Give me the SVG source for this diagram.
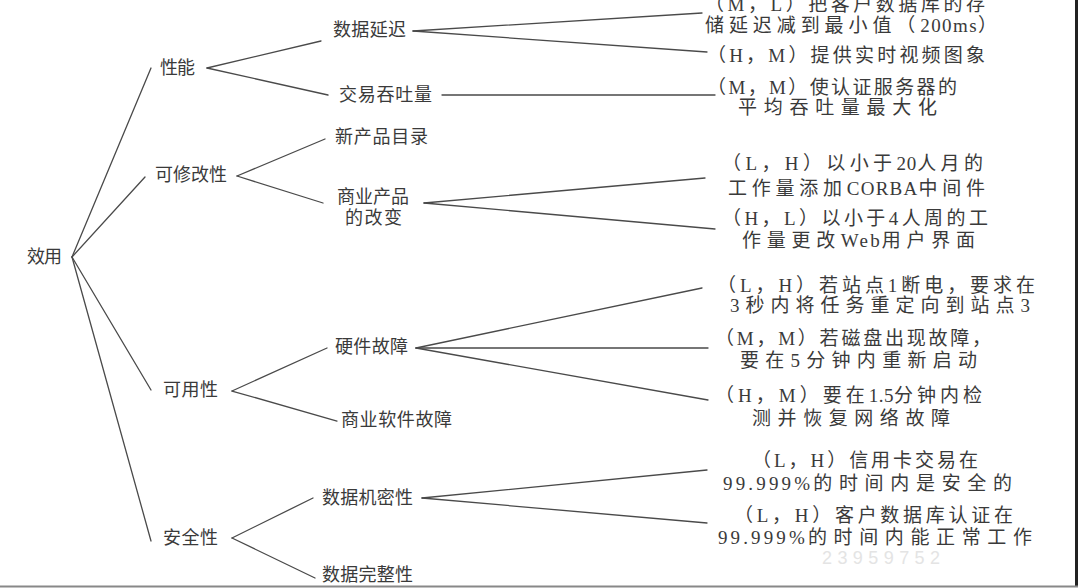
<svg xmlns="http://www.w3.org/2000/svg" width="1080" height="588" viewBox="0 0 1080 588">
<style>
text{font-family:"Liberation Serif","Noto Sans CJK SC",serif;fill:#3a3a3a;dominant-baseline:central}
.n{font-size:18px}
.r{font-size:19px}
.l{letter-spacing:-3.5px}
.wm{font-size:18px;fill:#e4e4e4;font-family:"Liberation Sans",sans-serif}
.c line{stroke:#4a4a4a;stroke-width:1.3;stroke-linecap:round}
</style>
<rect width="1080" height="588" fill="#ffffff"/>
<g id="connectors" class="c">
<line x1="72" y1="257" x2="151" y2="68"/>
<line x1="72" y1="257" x2="145" y2="177"/>
<line x1="72" y1="257" x2="151" y2="390"/>
<line x1="72" y1="257" x2="151" y2="541"/>
<line x1="207" y1="68" x2="321" y2="41"/>
<line x1="207" y1="68" x2="328" y2="95"/>
<line x1="413" y1="31" x2="702" y2="13"/>
<line x1="413" y1="31" x2="707" y2="52"/>
<line x1="442" y1="95" x2="715" y2="95"/>
<line x1="237" y1="176" x2="325" y2="139"/>
<line x1="237" y1="176" x2="323" y2="203"/>
<line x1="424" y1="203" x2="705" y2="178"/>
<line x1="424" y1="203" x2="715" y2="229"/>
<line x1="232" y1="391" x2="327" y2="348"/>
<line x1="232" y1="391" x2="337" y2="421"/>
<line x1="416" y1="348" x2="702" y2="288"/>
<line x1="416" y1="348" x2="708" y2="348"/>
<line x1="416" y1="348" x2="708" y2="400"/>
<line x1="232" y1="538" x2="313" y2="498"/>
<line x1="232" y1="538" x2="315" y2="578"/>
<line x1="422" y1="498" x2="707" y2="470"/>
<line x1="422" y1="498" x2="707" y2="523"/>
</g>
<g id="utility"><text class="n" x="27" y="257" textLength="35" lengthAdjust="spacing">效用</text></g>
<g id="performance"><text class="n" x="160" y="68" textLength="35" lengthAdjust="spacing">性能</text></g>
<g id="modifiability"><text class="n" x="155" y="175" textLength="72" lengthAdjust="spacing">可修改性</text></g>
<g id="availability"><text class="n" x="163" y="390" textLength="55" lengthAdjust="spacing">可用性</text></g>
<g id="security"><text class="n" x="163" y="538" textLength="55" lengthAdjust="spacing">安全性</text></g>
<g id="data-latency"><text class="n" x="333" y="30" textLength="73" lengthAdjust="spacing">数据延迟</text></g>
<g id="throughput"><text class="n" x="339" y="95" textLength="93" lengthAdjust="spacing">交易吞吐量</text></g>
<g id="new-catalog"><text class="n" x="335" y="137" textLength="93" lengthAdjust="spacing">新产品目录</text></g>
<g id="commercial-change"><text class="n" x="337" y="197" textLength="72" lengthAdjust="spacing">商业产品</text><text class="n" x="345" y="218" textLength="57" lengthAdjust="spacing">的改变</text></g>
<g id="hardware-failure"><text class="n" x="335" y="347" textLength="73" lengthAdjust="spacing">硬件故障</text></g>
<g id="software-failure"><text class="n" x="341" y="420" textLength="111" lengthAdjust="spacing">商业软件故障</text></g>
<g id="confidentiality"><text class="n" x="322" y="498" textLength="91" lengthAdjust="spacing">数据机密性</text></g>
<g id="integrity"><text class="n" x="322" y="575" textLength="91" lengthAdjust="spacing">数据完整性</text></g>
<g id="s1"><text class="r" x="705" y="4" textLength="280" lengthAdjust="spacing">（M，L）把客户数据库的存</text><text class="r" x="705" y="25" textLength="292" lengthAdjust="spacing">储延迟减到最小值（<tspan class="l">200ms</tspan>）</text></g>
<g id="s2"><text class="r" x="707" y="55" textLength="278" lengthAdjust="spacing">（H，M）提供实时视频图象</text></g>
<g id="s3"><text class="r" x="707" y="87" textLength="250" lengthAdjust="spacing">（M，M）使认证服务器的</text><text class="r" x="738" y="107" textLength="199" lengthAdjust="spacing">平均吞吐量最大化</text></g>
<g id="s4"><text class="r" x="722" y="163" textLength="261" lengthAdjust="spacing">（L，H）以小于<tspan class="l">20</tspan>人月的</text><text class="r" x="728" y="188" textLength="257" lengthAdjust="spacing">工作量添加<tspan class="l">CORBA</tspan>中间件</text></g>
<g id="s5"><text class="r" x="722" y="218" textLength="266" lengthAdjust="spacing">（H，L）以小于4人周的工</text><text class="r" x="742" y="240" textLength="233" lengthAdjust="spacing">作量更改<tspan class="l">Web</tspan>用户界面</text></g>
<g id="s6"><text class="r" x="717" y="285" textLength="318" lengthAdjust="spacing">（L，H）若站点1断电，要求在</text><text class="r" x="730" y="305" textLength="300" lengthAdjust="spacing">3秒内将任务重定向到站点3</text></g>
<g id="s7"><text class="r" x="715" y="338" textLength="276" lengthAdjust="spacing">（M，M）若磁盘出现故障，</text><text class="r" x="740" y="360" textLength="237" lengthAdjust="spacing">要在5分钟内重新启动</text></g>
<g id="s8"><text class="r" x="715" y="395" textLength="267" lengthAdjust="spacing">（H，M）要在<tspan class="l">1.5</tspan>分钟内检</text><text class="r" x="752" y="418" textLength="198" lengthAdjust="spacing">测并恢复网络故障</text></g>
<g id="s9"><text class="r" x="752" y="460" textLength="226" lengthAdjust="spacing">（L，H）信用卡交易在</text><text class="r" x="723" y="483" textLength="289" lengthAdjust="spacing"><tspan class="l">99.999%</tspan>的时间内是安全的</text></g>
<g id="s10"><text class="r" x="734" y="515" textLength="279" lengthAdjust="spacing">（L，H）客户数据库认证在</text><text class="r" x="718" y="537" textLength="314" lengthAdjust="spacing"><tspan class="l">99.999%</tspan>的时间内能正常工作</text></g>
<text class="wm" x="822" y="558" textLength="118" lengthAdjust="spacing">23959752</text>
<line x1="1076.5" y1="0" x2="1076.5" y2="586" stroke="#222" stroke-width="3"/>
<line x1="0" y1="586.5" x2="1078" y2="586.5" stroke="#888" stroke-width="2"/>
</svg>
